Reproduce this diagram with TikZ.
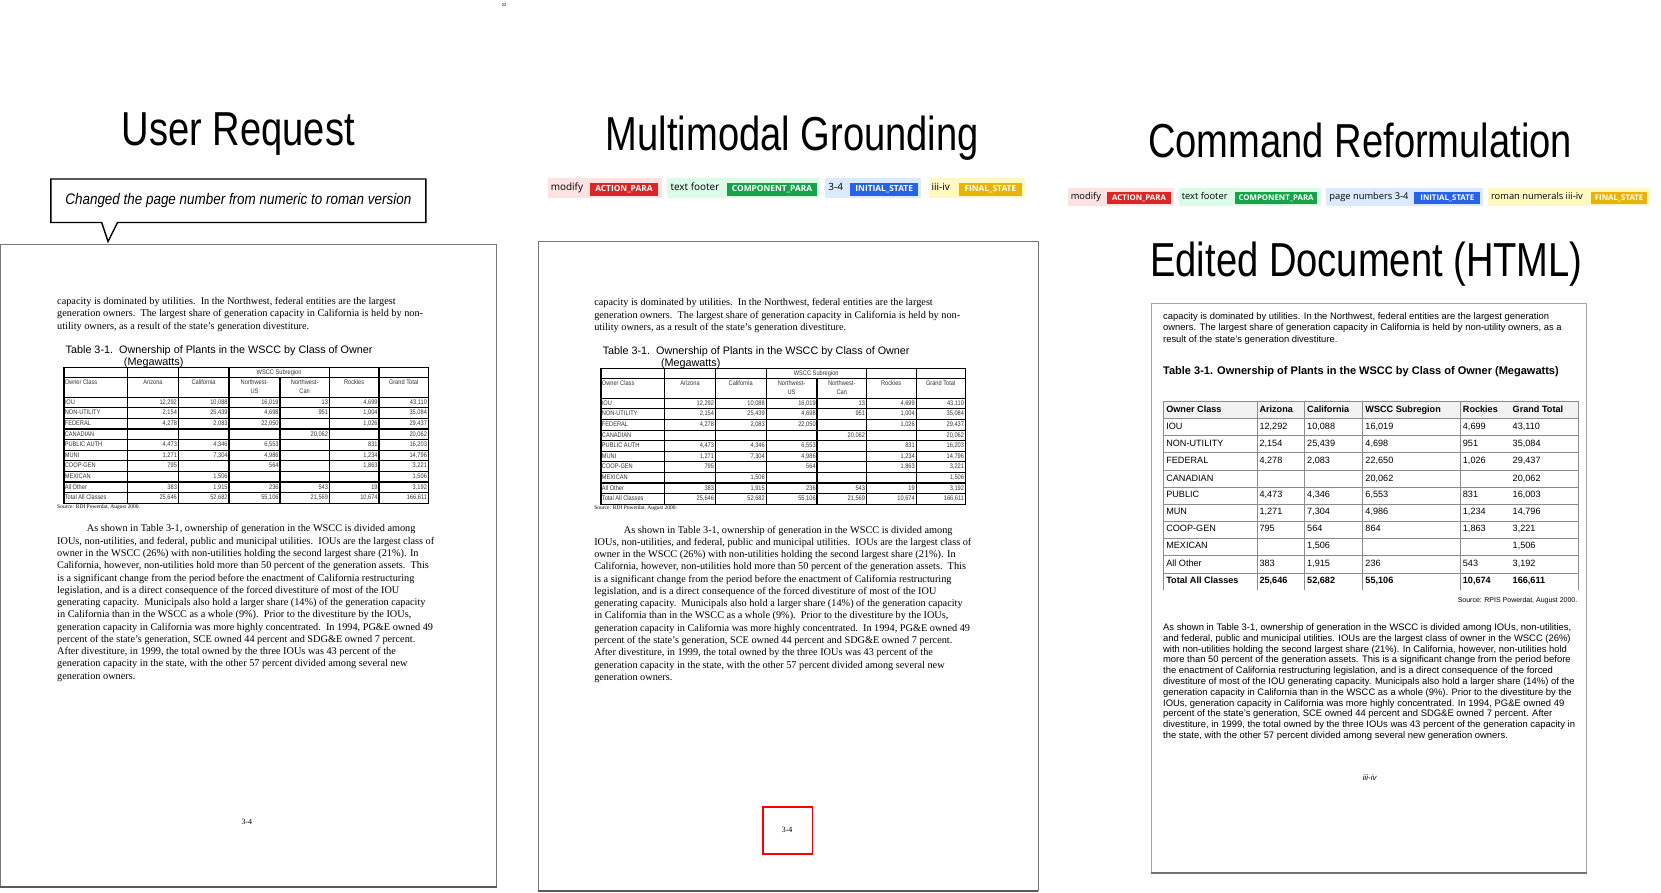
\documentclass[tikz,border=0pt]{standalone}
\usepackage{fontspec}
\setmainfont{Liberation Serif}
\setsansfont{Liberation Sans}
\newfontfamily\tagfont{Open Sans}
\newcommand\fsz[1]{\fontsize{#1}{#1}\selectfont}
\newcommand\tcn[1]{\scalebox{0.85}[1]{#1}}
\definecolor{pinkbg}{HTML}{FDE2E2}
\definecolor{redlab}{HTML}{DC2626}
\definecolor{greenbg}{HTML}{DCFCE7}
\definecolor{greenlab}{HTML}{16A34A}
\definecolor{bluebg}{HTML}{DBEAFE}
\definecolor{bluelab}{HTML}{2563EB}
\definecolor{yellowbg}{HTML}{FEF9C3}
\definecolor{yellowlab}{HTML}{EAB308}
\definecolor{pageline}{HTML}{777777}
\tikzset{
  every node/.style={inner sep=0pt, outer sep=0pt},
  ttl/.style={font=\sffamily\fsz{45}, anchor=base},
  pagebox/.style={draw=pageline, line width=0.8pt, fill=white, anchor=north west},
  serl/.style={font=\rmfamily\fsz{9.7}, anchor=west, text height=6.6pt, text depth=2.2pt},
  capl/.style={font=\sffamily\fsz{10.2}, anchor=west, text height=7.4pt, text depth=2.2pt},
  tsm/.style={font=\sffamily\fsz{6.3}, text=black!80, text height=4.5pt, text depth=1.2pt},
  tgrid/.style={line width=1.1pt, black},
  srcl/.style={font=\rmfamily\fsz{5.2}, anchor=west, text height=3.6pt, text depth=1pt},
  sanl/.style={font=\sffamily\fsz{8.9}, anchor=west, text height=6.4pt, text depth=2pt},
  rt/.style={font=\sffamily\fsz{8.6}, anchor=west, text height=6.2pt, text depth=2pt},
  rgrid/.style={line width=0.6pt, black!45},
  tagbgA/.style={minimum height=18.3pt},
  tagtxtA/.style={font=\tagfont\fsz{9.4}, anchor=west, text height=7pt, text depth=2pt},
  taglabA/.style={font=\tagfont\bfseries\fsz{7.9}, text=white, minimum height=12.2pt},
  tagbgB/.style={minimum height=17pt},
  tagtxtB/.style={font=\tagfont\fsz{8.8}, anchor=west, text height=6.6pt, text depth=2pt},
  taglabB/.style={font=\tagfont\bfseries\fsz{7.4}, text=white, minimum height=11.5pt},
}
% one row of the old-style table: prefix, y, label, six values
\newcommand\orow[9]{%
  \node[tsm, anchor=west] (#1r#2l) at (61.2,#2) {\tcn{#3}};
  \node[tsm, anchor=east] (#1r#2a) at (167,#2) {\tcn{#4}};
  \node[tsm, anchor=east] (#1r#2b) at (214.9,#2) {\tcn{#5}};
  \node[tsm, anchor=east] (#1r#2c) at (263,#2) {\tcn{#6}};
  \node[tsm, anchor=east] (#1r#2d) at (309.6,#2) {\tcn{#7}};
  \node[tsm, anchor=east] (#1r#2e) at (356.5,#2) {\tcn{#8}};
  \node[tsm, anchor=east] (#1r#2f) at (403,#2) {\tcn{#9}};
}
% one row of the HTML table: y, label, five values
\newcommand\rrow[7]{%
  \node[rt] (R#1l) at (1101,#1) {#2};
  \node[rt] (R#1a) at (1189,#1) {#3};
  \node[rt] (R#1b) at (1234,#1) {#4};
  \node[rt] (R#1c) at (1289,#1) {#5};
  \node[rt] (R#1d) at (1381,#1) {#6};
  \node[rt] (R#1e) at (1428,#1) {#7};
}
% content of an original (PDF) page
\newcommand\oldpage[1]{%
  \node[serl] (#1a1) at (54,285) {capacity is dominated by utilities.\ \ In the Northwest, federal entities are the largest};
  \node[serl] (#1a2) at (54,297) {generation owners.\ \ The largest share of generation capacity in California is held by non-};
  \node[serl] (#1a3) at (54,309) {utility owners, as a result of the state’s generation divestiture.};
  \node[capl] (#1cap) at (62,331) {Table 3-1.\ \ Ownership of Plants in the WSCC by Class of Owner};
  \node[capl] (#1capb) at (117,342) {(Megawatts)};
  \draw[tgrid] (60.4,347) rectangle (404.3,475);
  \draw[tgrid] (60.4,356) -- (404.3,356);
  \foreach \yy in {375,385,...,465} \draw[tgrid] (60.4,\yy) -- (404.3,\yy);
  \foreach \xx in {120.5,168.3,216.2,310.9,357.8} \draw[tgrid] (\xx,347) -- (\xx,475);
  \draw[tgrid] (264.3,356) -- (264.3,475);
  \node[tsm] (#1hW) at (263.5,351.5) {\tcn{WSCC Subregion}};
  \node[tsm, anchor=west] (#1h0) at (61.2,361) {\tcn{Owner Class}};
  \node[tsm] (#1h1) at (144.4,361) {\tcn{Arizona}};
  \node[tsm] (#1h2) at (192.2,361) {\tcn{California}};
  \node[tsm] (#1h3) at (240.2,361) {\tcn{Northwest-}};
  \node[tsm] (#1h3b) at (240.2,370) {\tcn{US}};
  \node[tsm] (#1h4) at (287.6,361) {\tcn{Northwest-}};
  \node[tsm] (#1h4b) at (287.6,370) {\tcn{Can}};
  \node[tsm] (#1h5) at (334.3,361) {\tcn{Rockies}};
  \node[tsm] (#1h6) at (381,361) {\tcn{Grand Total}};
  \orow{#1}{380}{IOU}{12,292}{10,088}{16,019}{13}{4,699}{43,110}
  \orow{#1}{390}{NON-UTILITY}{2,154}{25,439}{4,698}{951}{1,004}{35,084}
  \orow{#1}{400}{FEDERAL}{4,278}{2,083}{22,050}{}{1,026}{29,437}
  \orow{#1}{410}{CANADIAN}{}{}{}{20,062}{}{20,062}
  \orow{#1}{420}{PUBLIC AUTH}{4,473}{4,346}{6,553}{}{831}{16,203}
  \orow{#1}{430}{MUNI}{1,271}{7,304}{4,986}{}{1,234}{14,796}
  \orow{#1}{440}{COOP-GEN}{795}{}{564}{}{1,863}{3,221}
  \orow{#1}{450}{MEXICAN}{}{1,506}{}{}{}{1,506}
  \orow{#1}{460}{All Other}{383}{1,915}{236}{543}{19}{3,192}
  \orow{#1}{470}{Total All Classes}{25,646}{52,682}{55,106}{21,569}{10,674}{166,611}
  \node[srcl] (#1src) at (54,479) {Source: RDI Powerdat, August 2000.};
  \node[serl] (#1b1) at (82,500) {As shown in Table 3-1, ownership of generation in the WSCC is divided among};
  \node[serl] (#1b2) at (54,511.6) {IOUs, non-utilities, and federal, public and municipal utilities.\ \ IOUs are the largest class of};
  \node[serl] (#1b3) at (54,523.2) {owner in the WSCC (26\%) with non-utilities holding the second largest share (21\%). In};
  \node[serl] (#1b4) at (54,534.7) {California, however, non-utilities hold more than 50 percent of the generation assets.\ \ This};
  \node[serl] (#1b5) at (54,546.3) {is a significant change from the period before the enactment of California restructuring};
  \node[serl] (#1b6) at (54,557.9) {legislation, and is a direct consequence of the forced divestiture of most of the IOU};
  \node[serl] (#1b7) at (54,569.5) {generating capacity.\ \ Municipals also hold a larger share (14\%) of the generation capacity};
  \node[serl] (#1b8) at (54,581.1) {in California than in the WSCC as a whole (9\%).\ \ Prior to the divestiture by the IOUs,};
  \node[serl] (#1b9) at (54,592.6) {generation capacity in California was more highly concentrated.\ \ In 1994, PG\&E owned 49};
  \node[serl] (#1b10) at (54,604.2) {percent of the state's generation, SCE owned 44 percent and SDG\&E owned 7 percent.};
  \node[serl] (#1b11) at (54,615.8) {After divestiture, in 1999, the total owned by the three IOUs was 43 percent of the};
  \node[serl] (#1b12) at (54,627.4) {generation capacity in the state, with the other 57 percent divided among several new};
  \node[serl] (#1b13) at (54,639) {generation owners.};
}
\begin{document}
\begin{tikzpicture}[x=1pt, y=-1pt]
\useasboundingbox (0,0) rectangle (1568,843);
\fill[white] (0,0) rectangle (1568,843);
\node[font=\sffamily\fsz{4}] (pgno) at (476,5) {22};
% titles
\node[ttl] (t1) at (225,137) {\scalebox{0.8}[1]{User Request}};
\node[ttl] (t2) at (748,142) {\scalebox{0.8}[1]{Multimodal Grounding}};
\node[ttl] (t3) at (1284,149) {\scalebox{0.8}[1]{Command Reformulation}};
\node[ttl] (t4) at (1290,261) {\scalebox{0.8}[1]{Edited Document (HTML)}};
% user request callout
\draw[line width=1.3pt, fill=white] (48,169) -- (402,169) -- (402,210) -- (111,210) -- (102,228) -- (96,210) -- (48,210) -- cycle;
\node[font=\sffamily\itshape\fsz{14.5}] (req) at (225,189.5) {\scalebox{0.875}[1]{Changed the page number from numeric to roman version}};
% pages
\node[pagebox, minimum width=469, minimum height=606] (P1) at (0,231) {};
\draw[line width=1.6pt, black!65] (P1.south west) -- (P1.south east);
\node[pagebox, minimum width=472, minimum height=613] (P2) at (508,228) {};
\draw[line width=1.6pt, black!65] (P2.south west) -- (P2.south east);
\node[pagebox, draw=black!35, minimum width=411, minimum height=538] (P3) at (1087,286) {};
\draw[line width=1.6pt, black!55] (P3.south west) -- (P3.south east);
% left page
\oldpage{L}
\node[font=\rmfamily\fsz{7.5}] (Lpn) at (233,776) {3-4};
% middle page
\begin{scope}[shift={(507,1)}]
\oldpage{M}
\end{scope}
\node[draw=red, line width=1.5pt, minimum width=47, minimum height=44] (redbox) at (743.5,784) {};
\node[font=\rmfamily\fsz{7.5}] (Mpn) at (743,783) {3-4};
% middle tags
\node[tagbgA, fill=pinkbg, minimum width=108] (ma) at (571,177.5) {};
\node[tagtxtA] (mat) at (520,177.5) {modify};
\node[taglabA, fill=redlab, minimum width=64] (mal) at (589,178.6) {ACTION\_PARA};
\node[tagbgA, fill=greenbg, minimum width=143.5] (mb) at (701.8,177.5) {};
\node[tagtxtA] (mbt) at (633,177.5) {text footer};
\node[taglabA, fill=greenlab, minimum width=84.5] (mbl) at (728.8,178.6) {COMPONENT\_PARA};
\node[tagbgA, fill=bluebg, minimum width=90.8] (mc) at (824.4,177.5) {};
\node[tagtxtA] (mct) at (782,177.5) {3-4};
\node[taglabA, fill=bluelab, minimum width=64.5] (mcl) at (834.7,178.6) {INITIAL\_STATE};
\node[tagbgA, fill=yellowbg, minimum width=90.6] (md) at (922.3,177.5) {};
\node[tagtxtA] (mdt) at (879.5,177.5) {iii-iv};
\node[taglabA, fill=yellowlab, minimum width=59] (mdl) at (934.9,178.6) {FINAL\_STATE};
% right tags
\node[tagbgB, fill=pinkbg, minimum width=99.5] (ra) at (1058.3,186) {};
\node[tagtxtB] (rat) at (1010.8,186) {modify};
\node[taglabB, fill=redlab, minimum width=60.5] (ral) at (1075.3,187) {ACTION\_PARA};
\node[tagbgB, fill=greenbg, minimum width=133.8] (rb) at (1179.7,186) {};
\node[tagtxtB] (rbt) at (1115.7,186) {text footer};
\node[taglabB, fill=greenlab, minimum width=78] (rbl) at (1204.6,187) {COMPONENT\_PARA};
\node[tagbgB, fill=bluebg, minimum width=147.6] (rc) at (1325.8,186) {};
\node[tagtxtB] (rct) at (1255,186) {page numbers 3-4};
\node[taglabB, fill=bluelab, minimum width=62.2] (rcl) at (1366.3,187) {INITIAL\_STATE};
\node[tagbgB, fill=yellowbg, minimum width=152.5] (rd) at (1481.3,186) {};
\node[tagtxtB] (rdt) at (1407.6,186) {roman numerals iii-iv};
\node[taglabB, fill=yellowlab, minimum width=53.6] (rdl) at (1528.4,187) {FINAL\_STATE};
% right page (HTML)
\node[sanl] (Ra1) at (1098,299) {capacity is dominated by utilities. In the Northwest, federal entities are the largest generation};
\node[sanl] (Ra2) at (1098,310) {owners. The largest share of generation capacity in California is held by non-utility owners, as a};
\node[sanl] (Ra3) at (1098,321) {result of the state's generation divestiture.};
\node[font=\sffamily\bfseries\fsz{10.4}, anchor=west, text height=7.6pt, text depth=2.2pt] (Rcap) at (1098,351) {Table 3-1. Ownership of Plants in the WSCC by Class of Owner (Megawatts)};
\fill[black!5] (1098,379) rectangle (1490,395);
\draw[rgrid] (1098,379) -- (1490,379);
\foreach \yy in {395,411.2,427.4,443.6,459.8,476,492.2,508.4,524.6,540.8} \draw[rgrid] (1098,\yy) -- (1490,\yy);
\foreach \xx in {1098,1187,1231.3,1285.7,1378.6,1490} \draw[rgrid] (\xx,379) -- (\xx,557);
\rrow{387}{\bfseries Owner Class}{\bfseries Arizona}{\bfseries California}{\bfseries WSCC Subregion}{\bfseries Rockies}{\bfseries Grand Total}
\rrow{403}{IOU}{12,292}{10,088}{16,019}{4,699}{43,110}
\rrow{419}{NON-UTILITY}{2,154}{25,439}{4,698}{951}{35,084}
\rrow{435}{FEDERAL}{4,278}{2,083}{22,650}{1,026}{29,437}
\rrow{452}{CANADIAN}{}{}{20,062}{}{20,062}
\rrow{468}{PUBLIC}{4,473}{4,346}{6,553}{831}{16,003}
\rrow{484}{MUN}{1,271}{7,304}{4,986}{1,234}{14,796}
\rrow{500}{COOP-GEN}{795}{564}{864}{1,863}{3,221}
\rrow{516}{MEXICAN}{}{1,506}{}{}{1,506}
\rrow{533}{All Other}{383}{1,915}{236}{543}{3,192}
\rrow{549}{\bfseries Total All Classes}{\bfseries 25,646}{\bfseries 52,682}{\bfseries 55,106}{\bfseries 10,674}{\bfseries 166,611}
\node[font=\sffamily\fsz{6.6}, anchor=east, text height=5pt, text depth=1.5pt] (Rsrc) at (1489,567) {Source: RPIS Powerdat, August 2000.};
\node[sanl] (Rb1) at (1098,593) {As shown in Table 3-1, ownership of generation in the WSCC is divided among IOUs, non-utilities,};
\node[sanl] (Rb2) at (1098,603.2) {and federal, public and municipal utilities. IOUs are the largest class of owner in the WSCC (26\%)};
\node[sanl] (Rb3) at (1098,613.4) {with non-utilities holding the second largest share (21\%). In California, however, non-utilities hold};
\node[sanl] (Rb4) at (1098,623.6) {more than 50 percent of the generation assets. This is a significant change from the period before};
\node[sanl] (Rb5) at (1098,633.8) {the enactment of California restructuring legislation, and is a direct consequence of the forced};
\node[sanl] (Rb6) at (1098,644) {divestiture of most of the IOU generating capacity. Municipals also hold a larger share (14\%) of the};
\node[sanl] (Rb7) at (1098,654.2) {generation capacity in California than in the WSCC as a whole (9\%). Prior to the divestiture by the};
\node[sanl] (Rb8) at (1098,664.4) {IOUs, generation capacity in California was more highly concentrated. In 1994, PG\&E owned 49};
\node[sanl] (Rb9) at (1098,674.6) {percent of the state's generation, SCE owned 44 percent and SDG\&E owned 7 percent. After};
\node[sanl] (Rb10) at (1098,684.8) {divestiture, in 1999, the total owned by the three IOUs was 43 percent of the generation capacity in};
\node[sanl] (Rb11) at (1098,695) {the state, with the other 57 percent divided among several new generation owners.};
\node[font=\sffamily\itshape\fsz{7.5}] (Rpn) at (1293,734) {iii-iv};
\end{tikzpicture}
\end{document}
